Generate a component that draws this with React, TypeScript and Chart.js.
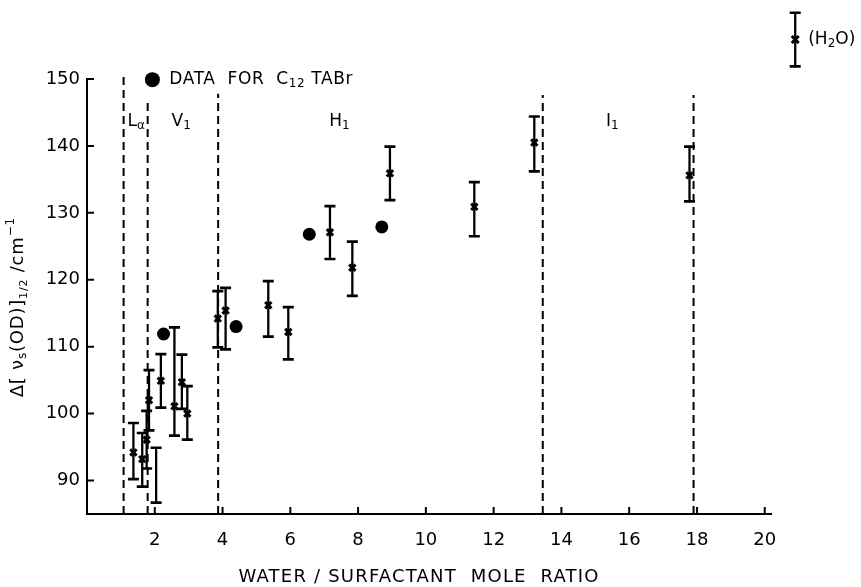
import React, { useEffect, useRef } from "react";
import { Chart, registerables } from "chart.js";

Chart.register(...registerables);

const FONT = '"DejaVu Sans", "Liberation Sans", sans-serif';

// axis ticks
const xTickValues = [2, 4, 6, 8, 10, 12, 14, 16, 18, 20];
const yTickValues = [90, 100, 110, 120, 130, 140, 150];

// C12 water/surfactant measurements (crosses with error bars)
const crossX = [1.37, 1.63, 1.76, 1.83, 2.18, 2.58, 2.8, 2.96, 3.86, 4.09, 5.35, 5.94, 7.17, 7.83, 8.94, 11.43, 13.2, 17.78];
const crossY = [94.2, 93.2, 96.1, 102.0, 104.9, 101.1, 104.7, 100.0, 114.2, 115.4, 116.2, 112.2, 127.1, 121.8, 135.9, 130.9, 140.5, 135.6];
const crossLow = [90.2, 89.1, 91.8, 97.5, 100.9, 96.7, 100.7, 96.1, 109.9, 109.6, 111.5, 108.1, 123.1, 117.6, 131.9, 126.5, 136.2, 131.7];
const crossHigh = [98.6, 97.1, 100.4, 106.5, 108.9, 112.9, 108.8, 104.1, 118.3, 118.8, 119.8, 115.9, 131.0, 125.7, 139.9, 134.6, 144.4, 139.9];

// error bar drawn without a visible marker
const bareX = [2.04];
const bareY = [90.8];
const bareLow = [86.7];
const bareHigh = [94.9];

// data for C12 TABr (filled circles)
const tabrX = [2.26, 4.4, 6.56, 8.7];
const tabrY = [111.9, 113.0, 126.8, 127.9];

// pure water reference
const waterX = [20.9];
const waterY = [155.9];
const waterLow = [151.9];
const waterHigh = [159.9];

// phase boundaries (dashed verticals)
const boundaryX = [1.08, 1.79, 3.87, 13.45, 17.9];
const boundaryTop = [150.3, 146.9, 147.8, 147.6, 147.6];

// phase labels
const phaseMain = ["L", "V", "H", "I"];
const phaseSub = ["α", "1", "1", "1"];
const phaseX = [1.45, 2.78, 7.45, 15.5];
const phaseY = 143.6;

// legend marker
const legendX = 1.93;
const legendY = 149.9;
const legendTextX = 2.43;

const xTitleCenter = 9.8;
const yTitleCenter = 115.9;

type Part = { t: string; size: number; dy: number };

function drawRich(ctx: CanvasRenderingContext2D, parts: Part[], x: number, y: number, align: "left" | "center", spacing = "0px") {
  (ctx as any).letterSpacing = spacing;
  let w = 0;
  parts.forEach((p) => {
    ctx.font = `${p.size}px ${FONT}`;
    w += ctx.measureText(p.t).width;
  });
  let cx = align === "center" ? x - w / 2 : x;
  ctx.textAlign = "left";
  ctx.textBaseline = "middle";
  parts.forEach((p) => {
    ctx.font = `${p.size}px ${FONT}`;
    ctx.fillText(p.t, cx, y + p.dy);
    cx += ctx.measureText(p.t).width;
  });
  (ctx as any).letterSpacing = "0px";
}

function drawCross(ctx: CanvasRenderingContext2D, px: number, py: number, r: number) {
  ctx.lineWidth = 3;
  ctx.beginPath();
  ctx.moveTo(px - r, py - r);
  ctx.lineTo(px + r, py + r);
  ctx.moveTo(px + r, py - r);
  ctx.lineTo(px - r, py + r);
  ctx.stroke();
}

const errorBarPlugin = {
  id: "errorBars",
  beforeDatasetsDraw(chart: any) {
    const ctx: CanvasRenderingContext2D = chart.ctx;
    const xs = chart.scales.x;
    const ys = chart.scales.y;
    ctx.save();
    ctx.strokeStyle = "#000";
    chart.data.datasets.forEach((ds: any) => {
      if (!ds.errLow) return;
      ds.data.forEach((pt: any, j: number) => {
        const px = xs.getPixelForValue(pt.x);
        const yl = ys.getPixelForValue(ds.errLow[j]);
        const yh = ys.getPixelForValue(ds.errHigh[j]);
        ctx.lineWidth = 2.3;
        ctx.beginPath();
        ctx.moveTo(px, yl);
        ctx.lineTo(px, yh);
        ctx.stroke();
        ctx.lineWidth = 2.7;
        ctx.beginPath();
        ctx.moveTo(px - 5.5, yl);
        ctx.lineTo(px + 5.5, yl);
        ctx.moveTo(px - 5.5, yh);
        ctx.lineTo(px + 5.5, yh);
        ctx.stroke();
        if (ds.outsideMarker) {
          drawCross(ctx, px, ys.getPixelForValue(pt.y), 3.5);
        }
      });
    });
    ctx.restore();
  },
};

const decorPlugin = {
  id: "decor",
  afterDraw(chart: any) {
    const ctx: CanvasRenderingContext2D = chart.ctx;
    const xs = chart.scales.x;
    const ys = chart.scales.y;
    const area = chart.chartArea;
    ctx.save();
    ctx.fillStyle = "#000";
    ctx.strokeStyle = "#000";
    // inner tick marks
    ctx.lineWidth = 2;
    ctx.beginPath();
    xTickValues.forEach((v) => {
      const px = xs.getPixelForValue(v);
      ctx.moveTo(px, area.bottom);
      ctx.lineTo(px, area.bottom - 7);
    });
    yTickValues.forEach((v) => {
      const py = ys.getPixelForValue(v);
      ctx.moveTo(area.left, py);
      ctx.lineTo(area.left + 7, py);
    });
    ctx.stroke();

    // phase labels
    phaseMain.forEach((m, i) => {
      const px = xs.getPixelForValue(phaseX[i]);
      const py = ys.getPixelForValue(phaseY);
      drawRich(ctx, [
        { t: m, size: 17, dy: 0 },
        { t: phaseSub[i], size: 12, dy: 4 },
      ], px, py, "center");
    });

    // legend text
    drawRich(ctx, [
      { t: "DATA  FOR  C", size: 17, dy: 0 },
      { t: "12", size: 12, dy: 4 },
      { t: " TABr", size: 17, dy: 0 },
    ], xs.getPixelForValue(legendTextX), ys.getPixelForValue(legendY), "left", "0.6px");

    // water label
    drawRich(ctx, [
      { t: "(H", size: 17, dy: 0 },
      { t: "2", size: 12, dy: 4 },
      { t: "O)", size: 17, dy: 0 },
    ], xs.getPixelForValue(waterX[0]) + 13, ys.getPixelForValue(waterY[0]), "left");

    // x title
    drawRich(ctx, [{ t: "WATER / SURFACTANT  MOLE  RATIO", size: 18, dy: 0 }],
      xs.getPixelForValue(xTitleCenter), area.bottom + 63, "center", "1.2px");

    // y title
    ctx.save();
    ctx.translate(18, ys.getPixelForValue(yTitleCenter));
    ctx.rotate(-Math.PI / 2);
    drawRich(ctx, [
      { t: "Δ[ ν", size: 18, dy: 0 },
      { t: "s", size: 12, dy: 5 },
      { t: "(OD)]", size: 18, dy: 0 },
      { t: "1/2", size: 11, dy: 6 },
      { t: " /cm", size: 18, dy: 0 },
      { t: "−1", size: 12, dy: -7 },
    ], 0, 0, "center", "0.8px");
    ctx.restore();
    ctx.restore();
  },
};

export default function App() {
  const ref = useRef<HTMLCanvasElement | null>(null);
  useEffect(() => {
    if (!ref.current) return;
    const lineSets = boundaryX.map((bx, i) => ({
      data: [{ x: bx, y: 85 }, { x: bx, y: boundaryTop[i] }],
      showLine: true,
      borderColor: "#000",
      borderWidth: 2,
      borderDash: [8, 5],
      pointRadius: 0,
      fill: false,
      clip: false,
    }));
    const chart = new Chart(ref.current, {
      type: "scatter",
      data: {
        datasets: [
          ...lineSets,
          {
            data: bareX.map((x, i) => ({ x, y: bareY[i] })),
            pointRadius: 0,
            errLow: bareLow,
            errHigh: bareHigh,
          } as any,
          {
            data: waterX.map((x, i) => ({ x, y: waterY[i] })),
            pointRadius: 0,
            outsideMarker: true,
            errLow: waterLow,
            errHigh: waterHigh,
            clip: false,
          } as any,
          {
            data: crossX.map((x, i) => ({ x, y: crossY[i] })),
            pointStyle: "crossRot",
            pointRadius: 4.5,
            borderWidth: 3,
            borderColor: "#000",
            errLow: crossLow,
            errHigh: crossHigh,
            clip: false,
          } as any,
          {
            data: tabrX.map((x, i) => ({ x, y: tabrY[i] })),
            pointStyle: "circle",
            pointRadius: 6.5,
            backgroundColor: "#000",
            borderColor: "#000",
            borderWidth: 0,
          },
          {
            data: [{ x: legendX, y: legendY }],
            pointStyle: "circle",
            pointRadius: 7.5,
            backgroundColor: "#000",
            borderColor: "#000",
            borderWidth: 0,
            clip: false,
          } as any,
        ],
      },
      options: {
        responsive: false,
        animation: false,
        events: [],
        layout: { padding: { top: 79, right: 861 - 771.5, left: 0, bottom: 0 } },
        plugins: { legend: { display: false }, tooltip: { enabled: false } },
        scales: {
          x: {
            type: "linear",
            min: 0,
            max: 20.2,
            afterFit: (s: any) => { s.height = 73; },
            afterBuildTicks: (s: any) => { s.ticks = xTickValues.map((v) => ({ value: v })); },
            ticks: { font: { family: FONT, size: 18 }, color: "#000", padding: 16, maxRotation: 0, autoSkip: false },
            grid: { display: false, drawTicks: false },
            border: { display: true, color: "#000", width: 2 },
          },
          y: {
            type: "linear",
            min: 85,
            max: 150,
            afterFit: (s: any) => { s.width = 87; },
            afterBuildTicks: (s: any) => { s.ticks = yTickValues.map((v) => ({ value: v })); },
            ticks: { font: { family: FONT, size: 18 }, color: "#000", padding: 7, autoSkip: false },
            grid: { display: false, drawTicks: false },
            border: { display: true, color: "#000", width: 2 },
          },
        },
      },
      plugins: [errorBarPlugin, decorPlugin],
    } as any);
    return () => chart.destroy();
  }, []);
  return (
    <div style={{ position: "fixed", left: 0, top: 0, width: 861, height: 587, background: "#fff" }}>
      <canvas ref={ref} width={861} height={587} style={{ display: "block", width: 861, height: 587 }} />
    </div>
  );
}
